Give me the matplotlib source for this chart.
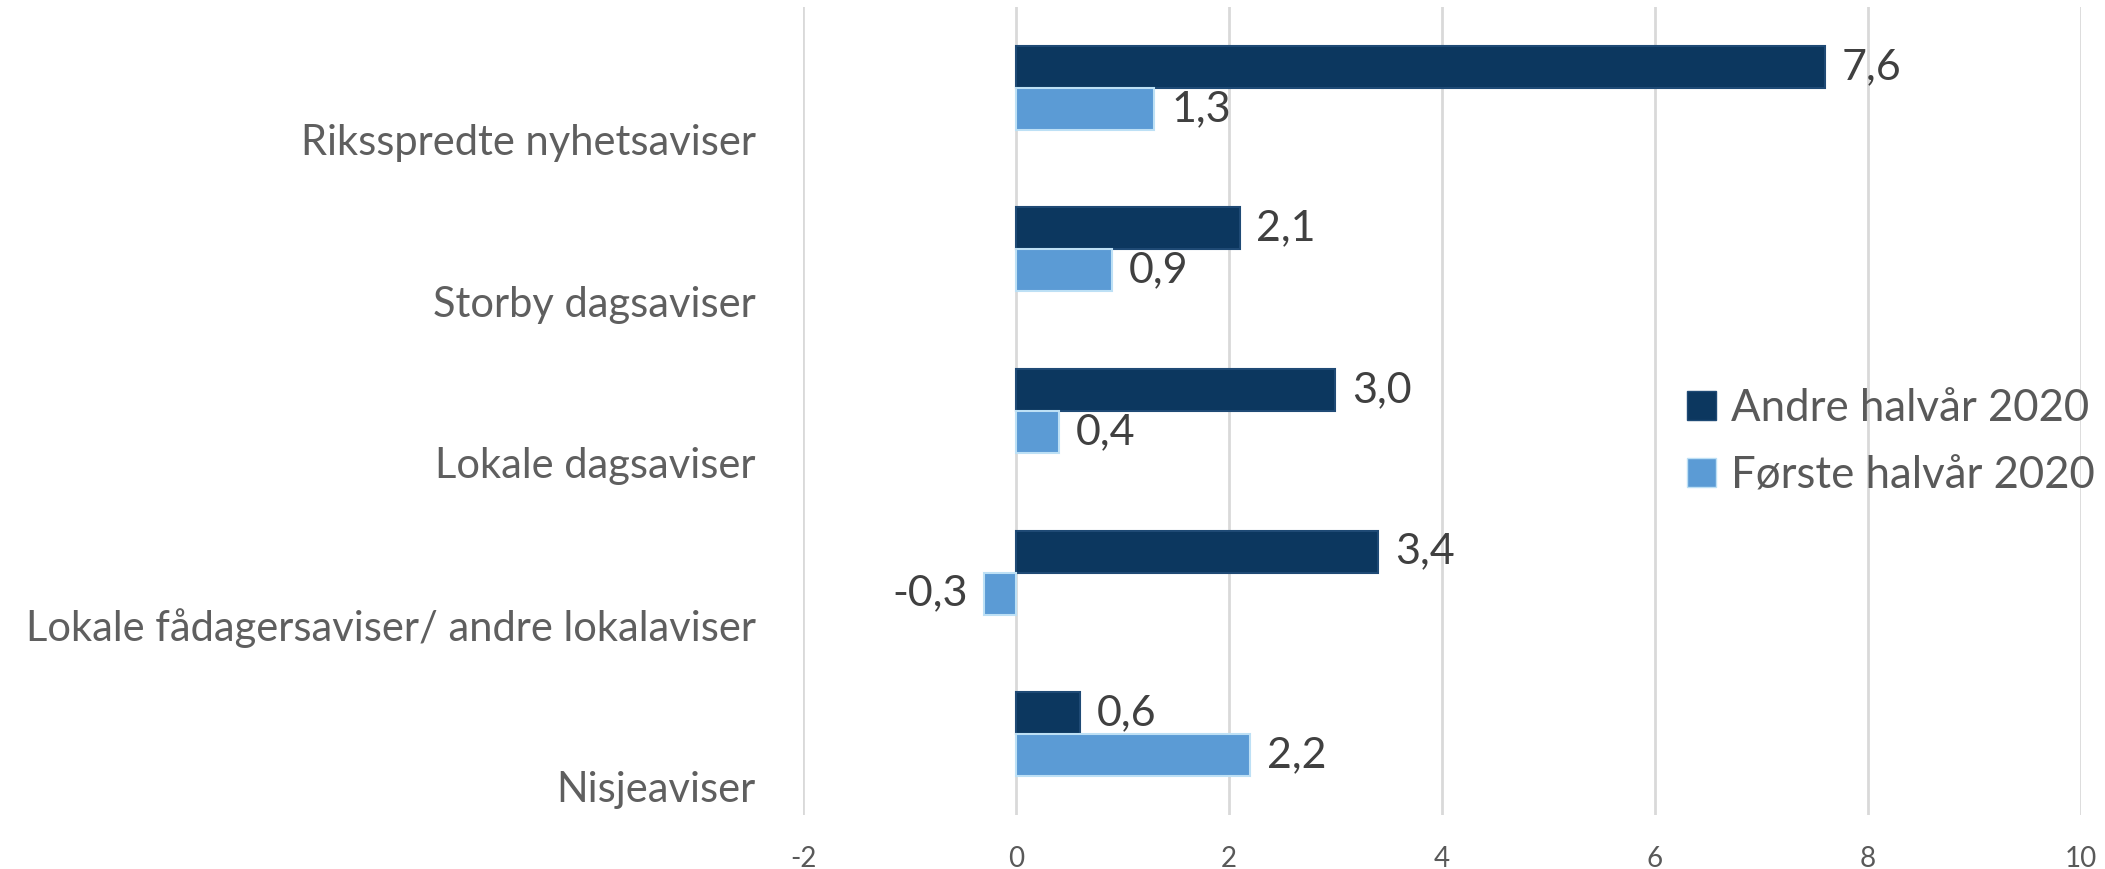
import matplotlib.pyplot as plt
import numpy as np
from matplotlib.patches import Patch

# Data
categories = ["Riksspredte nyhetsaviser", "Storby dagsaviser", "Lokale dagsaviser",
              "Lokale fådagersaviser/ andre lokalaviser", "Nisjeaviser"]
andre_2020 = [7.6, 2.1, 3.0, 3.4, 0.6]
forste_2020 = [1.3, 0.9, 0.4, -0.3, 2.2]
series_names = ["Andre halvår 2020", "Første halvår 2020"]
x_ticks = [-2, 0, 2, 4, 6, 8, 10]

dark = "#0c375f"
light = "#5b9bd5"
txt_dark = "#404040"
txt_grey = "#595959"
fnt = ["Lato", "DejaVu Sans"]

fig = plt.figure(figsize=(21.05, 8.69), dpi=100)
ax = fig.add_axes([0.3815, 0.062, 0.607, 0.93])

y = np.arange(len(categories))
h = 0.26
ax.barh(y - h/2, andre_2020, height=h, color=dark, edgecolor="#1f4a75", linewidth=1.5, zorder=3)
ax.barh(y + h/2, forste_2020, height=h, color=light, edgecolor="#bde0f5", linewidth=1.5, zorder=3)

# value labels
for vals, off in [(andre_2020, -h/2), (forste_2020, h/2)]:
    for yi, v in zip(y, vals):
        ax.annotate(f"{v:.1f}".replace(".", ","), (v, yi + off),
                    xytext=(12 if v >= 0 else -12, 0), textcoords="offset points",
                    va="center", ha="left" if v >= 0 else "right",
                    fontsize=31, color=txt_dark, family=fnt)

ax.set_xlim(-2, 10)
ax.set_ylim(4.5, -0.5)
ax.set_xticks(x_ticks)
ax.set_xticklabels([str(t) for t in x_ticks], fontsize=20, color=txt_grey, family=fnt)
# category labels sit a bit below the bar pair
ax.set_yticks(y + 0.32)
ax.set_yticklabels(categories, fontsize=30, color="#5f5f5f", family=fnt)
ax.tick_params(axis="both", length=0)
ax.tick_params(axis="x", pad=22)
ax.tick_params(axis="y", pad=34)

ax.grid(axis="x", color="#d9d9d9", linewidth=2, zorder=0)
for s in ax.spines.values():
    s.set_visible(False)

handles = [Patch(facecolor=dark, edgecolor="#1f4a75"), Patch(facecolor=light, edgecolor="#bde0f5")]
ax.legend(handles, series_names, loc="center left", bbox_to_anchor=(0.692, 0.4616),
          frameon=False, labelcolor=txt_grey, handlelength=0.65, handleheight=0.65,
          handletextpad=0.35, labelspacing=0.6, borderpad=0, borderaxespad=0,
          prop={"family": fnt, "size": 31.5})

fig.savefig("out.png", dpi=100)
